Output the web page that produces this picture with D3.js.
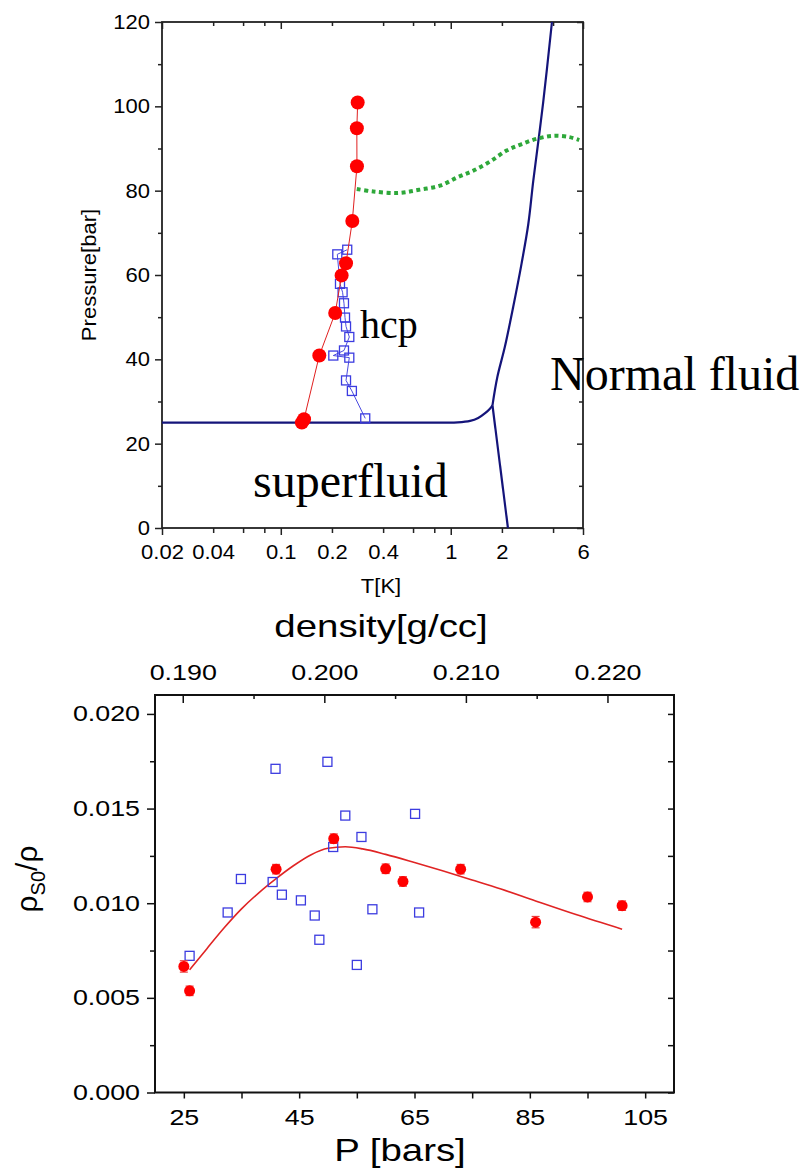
<!DOCTYPE html>
<html>
<head>
<meta charset="utf-8">
<script src="https://cdn.jsdelivr.net/npm/d3@7"></script>
<style>
  body { margin: 0; background: #fff; }
  svg { display: block; }
</style>
</head>
<body>
<svg id="chart" width="805" height="1170"></svg>
<script>
// ---------- top panel: phase diagram (T in K, P in bar) ----------
var tTicks  = [0.02, 0.04, 0.06, 0.08, 0.1, 0.2, 0.4, 0.6, 0.8, 1, 2, 4, 6];
var tLabels = [0.02, 0.04, 0.1, 0.2, 0.4, 1, 2, 6];
var tMajor  = [0.02, 0.1, 1, 6];
var pTicks  = [0, 20, 40, 60, 80, 100, 120];
var pMinor  = [10, 30, 50, 70, 90, 110];

// solid navy phase boundaries
var meltT   = [0.02, 0.5, 0.9, 1.1, 1.3, 1.45, 1.6, 1.7, 1.76];
var meltP   = [25.0, 25.0, 25.0, 25.05, 25.4, 26.1, 27.3, 28.3, 29.1];
var normT   = [1.76, 1.88, 2.08, 2.33, 2.61, 2.86, 3.06, 3.5, 3.94];
var normP   = [29.1, 35.8, 42.9, 52.4, 62.7, 72.1, 82.4, 101, 120];
var lambdaT = [1.76, 2.17];
var lambdaP = [29.1, 0];

// green dotted curve
var greenT = [0.28, 0.35, 0.49, 0.65, 0.865, 1.1, 1.35, 1.7, 2.13, 2.6, 3.2, 4.0, 5.0, 5.7];
var greenP = [80.4, 79.8, 79.45, 80.2, 81.2, 83.2, 84.7, 86.9, 89.5, 91.0, 92.3, 93.0, 92.7, 92.0];

// red circles (connected)
var redT = [0.133, 0.137, 0.1685, 0.209, 0.228, 0.242, 0.2635, 0.2806, 0.2802, 0.2834];
var redP = [25.0, 25.8, 40.9, 51.0, 59.9, 62.8, 72.8, 85.8, 94.8, 100.9];

// blue open squares (connected)
var sqT = [0.314, 0.262, 0.242, 0.253, 0.2037, 0.2354, 0.253, 0.242, 0.2387, 0.2354, 0.231, 0.223, 0.215, 0.246];
var sqP = [26.0, 32.5, 35.0, 40.4, 40.9, 42.1, 45.3, 47.8, 49.9, 53.3, 55.9, 57.9, 64.9, 66.0];

// ---------- bottom panel: rho_s0/rho vs P ----------
var pressTicks = [25, 45, 65, 85, 105];
var pressMinor = [35, 55, 75, 95];
var rhoTicks   = [0, 0.005, 0.010, 0.015, 0.020];
var rhoMinor   = [0.0025, 0.0075, 0.0125, 0.0175];
var densTicks  = [0.190, 0.200, 0.210, 0.220];
var densMinor  = [0.195, 0.205, 0.215];

var circP   = [25, 26, 41, 51, 60, 63, 73, 86, 95, 101];
var circRho = [0.00666, 0.00537, 0.0118, 0.01341, 0.01182, 0.01115, 0.0118, 0.0090, 0.01033, 0.00987];
var circErr = [0.0003, 0.00025, 0.00025, 0.00025, 0.00025, 0.00025, 0.00025, 0.0003, 0.00025, 0.00025];

var boxP   = [26.0, 32.6, 34.9, 40.4, 40.9, 42.0, 45.3, 47.7, 48.5, 49.9, 50.9, 53.0, 55.0, 55.8, 57.7, 65.1, 65.8];
var boxRho = [0.00722, 0.00951, 0.01128, 0.01112, 0.0171, 0.01045, 0.01015, 0.00935, 0.00807, 0.01747,
              0.01297, 0.01463, 0.00674, 0.0135, 0.00968, 0.01472, 0.00951];

var fitP   = [26, 29, 32, 35, 38, 41, 44, 47, 50, 53, 56, 60, 65, 70, 75, 80, 86, 93, 101];
var fitRho = [0.00648, 0.0076, 0.0087, 0.0097, 0.01055, 0.0113, 0.01198, 0.01255, 0.0129, 0.01298,
              0.01287, 0.01258, 0.01215, 0.0117, 0.01123, 0.01075, 0.01012, 0.0094, 0.00863];

var svg = d3.select("#chart");
var sans = "'Liberation Sans', Arial, sans-serif";
var serif = "'Liberation Serif', 'Times New Roman', serif";
var navy = "#14147a";

function zip(a, b) { return a.map(function(d, i) { return [d, b[i]]; }); }

function label(x, y, str, size, family, sx, anchor) {
    return svg.append("text")
        .attr("transform", "translate(" + x + "," + y + ") scale(" + sx + ",1)")
        .attr("text-anchor", anchor || "middle")
        .attr("font-family", family)
        .attr("font-size", size)
        .attr("fill", "#000")
        .text(str);
}

function styleAxis(g, size, sx, color) {
    g.select(".domain").remove();
    g.selectAll("line").attr("stroke", color).attr("stroke-width", 1.5);
    g.selectAll("text")
        .attr("font-family", sans)
        .attr("font-size", size)
        .attr("fill", "#000")
        .attr("x", function() { return +d3.select(this).attr("x") / sx; })
        .attr("transform", "scale(" + sx + ",1)");
}

// ================= TOP PANEL =================
var x1 = d3.scaleLog().domain([0.02, 6]).range([162, 583]);
var y1 = d3.scaleLinear().domain([0, 120]).range([528, 22]);

var topG = svg.append("g");

// axes
var gL = topG.append("g").attr("transform", "translate(162,0)")
    .call(d3.axisLeft(y1).tickValues(pTicks).tickSize(7).tickPadding(5).tickSizeOuter(0));
styleAxis(gL, 20, 1.1, "#222");
var gLm = topG.append("g").attr("transform", "translate(162,0)")
    .call(d3.axisLeft(y1).tickValues(pMinor).tickSize(4).tickFormat("").tickSizeOuter(0));
styleAxis(gLm, 20, 1, "#222");

var gR = topG.append("g").attr("transform", "translate(583,0)")
    .call(d3.axisLeft(y1).tickValues(pTicks).tickSize(6).tickFormat("").tickSizeOuter(0));
styleAxis(gR, 20, 1, "#222");
var gRm = topG.append("g").attr("transform", "translate(583,0)")
    .call(d3.axisLeft(y1).tickValues(pMinor).tickSize(4).tickFormat("").tickSizeOuter(0));
styleAxis(gRm, 20, 1, "#222");

var gB = topG.append("g").attr("transform", "translate(0,528)")
    .call(d3.axisBottom(x1).tickValues(tTicks)
        .tickSize(5).tickPadding(12).tickSizeOuter(0)
        .tickFormat(function(d) { return tLabels.indexOf(d) >= 0 ? String(d) : ""; }));
styleAxis(gB, 20, 1.1, "#222");
gB.selectAll("line").attr("y2", function(d) { return tMajor.indexOf(d) >= 0 ? 7 : 5; });

var gT = topG.append("g").attr("transform", "translate(0,22)")
    .call(d3.axisBottom(x1).tickValues(tTicks).tickSize(4).tickFormat("").tickSizeOuter(0));
styleAxis(gT, 20, 1, "#222");
gT.selectAll("line").attr("y2", function(d) { return tMajor.indexOf(d) >= 0 ? 7 : 4; });

topG.append("rect").attr("x", 162).attr("y", 22).attr("width", 421).attr("height", 506)
    .attr("fill", "none").attr("stroke", "#222").attr("stroke-width", 1.8);

// phase boundaries
var line1 = d3.line().x(function(d) { return x1(d[0]); }).y(function(d) { return y1(d[1]); });
var line1s = d3.line().x(function(d) { return x1(d[0]); }).y(function(d) { return y1(d[1]); })
    .curve(d3.curveCatmullRom);

[zip(meltT, meltP), zip(normT, normP), zip(lambdaT, lambdaP)].forEach(function(seg) {
    topG.append("path").datum(seg)
        .attr("d", line1s)
        .attr("fill", "none")
        .attr("stroke", navy)
        .attr("stroke-width", 2.2);
});

topG.append("path").datum(zip(greenT, greenP))
    .attr("d", line1s)
    .attr("fill", "none")
    .attr("stroke", "#2ea83a")
    .attr("stroke-width", 4)
    .attr("stroke-dasharray", "4,3.5");

// blue squares + thin line
var sqData = zip(sqT, sqP).sort(function(a, b) { return a[1] - b[1]; });
topG.append("path").datum(sqData)
    .attr("d", line1)
    .attr("fill", "none")
    .attr("stroke", "#4a4ae0")
    .attr("stroke-width", 1);
topG.selectAll("rect.sq").data(sqData).enter().append("rect")
    .attr("class", "sq")
    .attr("x", function(d) { return x1(d[0]) - 4.5; })
    .attr("y", function(d) { return y1(d[1]) - 4.5; })
    .attr("width", 9).attr("height", 9)
    .attr("fill", "none")
    .attr("stroke", "#3c3ce0")
    .attr("stroke-width", 1.3);

// red circles + thin line
var redData = zip(redT, redP);
topG.append("path").datum(redData)
    .attr("d", line1)
    .attr("fill", "none")
    .attr("stroke", "#e02020")
    .attr("stroke-width", 1);
topG.selectAll("circle.red").data(redData).enter().append("circle")
    .attr("class", "red")
    .attr("cx", function(d) { return x1(d[0]); })
    .attr("cy", function(d) { return y1(d[1]); })
    .attr("r", 7)
    .attr("fill", "#ff0000");

// labels
label(96, 275, "Pressure[bar]", 21, sans, 1, "middle")
    .attr("transform", "translate(96,275) rotate(-90) scale(1.05,1)");
label(381, 593, "T[K]", 20, sans, 1.1);
label(360, 338, "hcp", 40, serif, 1, "start");
label(550, 390, "Normal fluid", 48, serif, 1, "start");
label(253, 497, "superfluid", 48, serif, 1, "start");

// ================= BOTTOM PANEL =================
var x2 = d3.scaleLinear().domain([20, 110]).range([155, 674]);
var y2 = d3.scaleLinear().domain([0, 0.021]).range([1092.5, 695]);
var xd = d3.scaleLinear().domain([0.18804, 0.2247]).range([155, 674]);

var bot = svg.append("g");

var bL = bot.append("g").attr("transform", "translate(155,0)")
    .call(d3.axisLeft(y2).tickValues(rhoTicks).tickSize(8).tickPadding(7)
        .tickFormat(d3.format(".3f")).tickSizeOuter(0));
styleAxis(bL, 22, 1.22, "#111");
var bLm = bot.append("g").attr("transform", "translate(155,0)")
    .call(d3.axisLeft(y2).tickValues(rhoMinor).tickSize(5).tickFormat("").tickSizeOuter(0));
styleAxis(bLm, 22, 1, "#111");

var bR = bot.append("g").attr("transform", "translate(674,0)")
    .call(d3.axisLeft(y2).tickValues(rhoTicks.concat(rhoMinor)).tickSize(6).tickFormat("").tickSizeOuter(0));
styleAxis(bR, 22, 1, "#111");

var bB = bot.append("g").attr("transform", "translate(0,1092.5)")
    .call(d3.axisBottom(x2).tickValues(pressTicks).tickSize(6).tickPadding(11).tickSizeOuter(0));
styleAxis(bB, 22, 1.22, "#111");
var bBm = bot.append("g").attr("transform", "translate(0,1092.5)")
    .call(d3.axisBottom(x2).tickValues(pressMinor).tickSize(6).tickFormat("").tickSizeOuter(0));
styleAxis(bBm, 22, 1, "#111");

// density axis on top: labels outside, ticks inside
var bT = bot.append("g").attr("transform", "translate(0,695)")
    .call(d3.axisTop(xd).tickValues(densTicks).tickSize(0).tickPadding(15)
        .tickFormat(d3.format(".3f")).tickSizeOuter(0));
styleAxis(bT, 22, 1.22, "#111");
var bTi = bot.append("g").attr("transform", "translate(0,695)")
    .call(d3.axisBottom(xd).tickValues(densTicks).tickSize(8).tickFormat("").tickSizeOuter(0));
styleAxis(bTi, 22, 1, "#111");
var bTm = bot.append("g").attr("transform", "translate(0,695)")
    .call(d3.axisBottom(xd).tickValues(densMinor).tickSize(4).tickFormat("").tickSizeOuter(0));
styleAxis(bTm, 22, 1, "#111");

bot.append("rect").attr("x", 155).attr("y", 695).attr("width", 519).attr("height", 397.5)
    .attr("fill", "none").attr("stroke", "#111").attr("stroke-width", 2);

// fit curve
var line2 = d3.line().x(function(d) { return x2(d[0]); }).y(function(d) { return y2(d[1]); })
    .curve(d3.curveMonotoneX);
bot.append("path").datum(zip(fitP, fitRho))
    .attr("d", line2)
    .attr("fill", "none")
    .attr("stroke", "#e02424")
    .attr("stroke-width", 1.6);

// open squares
bot.selectAll("rect.box").data(zip(boxP, boxRho)).enter().append("rect")
    .attr("class", "box")
    .attr("x", function(d) { return x2(d[0]) - 4.5; })
    .attr("y", function(d) { return y2(d[1]) - 4.5; })
    .attr("width", 9).attr("height", 9)
    .attr("fill", "none")
    .attr("stroke", "#3c3ce0")
    .attr("stroke-width", 1.3);

// red circles with error bars
var circData = circP.map(function(p, i) { return { p: p, r: circRho[i], e: circErr[i] }; });
var eb = bot.selectAll("g.err").data(circData).enter().append("g").attr("class", "err")
    .attr("stroke", "#e84040").attr("stroke-width", 1.2);
eb.append("line")
    .attr("x1", function(d) { return x2(d.p); }).attr("x2", function(d) { return x2(d.p); })
    .attr("y1", function(d) { return y2(d.r - d.e); }).attr("y2", function(d) { return y2(d.r + d.e); });
eb.append("line")
    .attr("x1", function(d) { return x2(d.p) - 4; }).attr("x2", function(d) { return x2(d.p) + 4; })
    .attr("y1", function(d) { return y2(d.r - d.e); }).attr("y2", function(d) { return y2(d.r - d.e); });
eb.append("line")
    .attr("x1", function(d) { return x2(d.p) - 4; }).attr("x2", function(d) { return x2(d.p) + 4; })
    .attr("y1", function(d) { return y2(d.r + d.e); }).attr("y2", function(d) { return y2(d.r + d.e); });
bot.selectAll("circle.c").data(circData).enter().append("circle")
    .attr("class", "c")
    .attr("cx", function(d) { return x2(d.p); })
    .attr("cy", function(d) { return y2(d.r); })
    .attr("r", 5.5)
    .attr("fill", "#ff0000");

// labels
label(381, 637, "density[g/cc]", 32, sans, 1.2);
label(400, 1161, "P [bars]", 32, sans, 1.2);

var yl = svg.append("text")
    .attr("transform", "translate(37,879) rotate(-90)")
    .attr("text-anchor", "middle")
    .attr("font-family", sans)
    .attr("font-size", 30)
    .attr("fill", "#000");
yl.append("tspan").text("ρ");
yl.append("tspan").attr("dy", 8).attr("font-size", 20).text("S0");
yl.append("tspan").attr("dy", -8).text("/ρ");
</script>
</body>
</html>
